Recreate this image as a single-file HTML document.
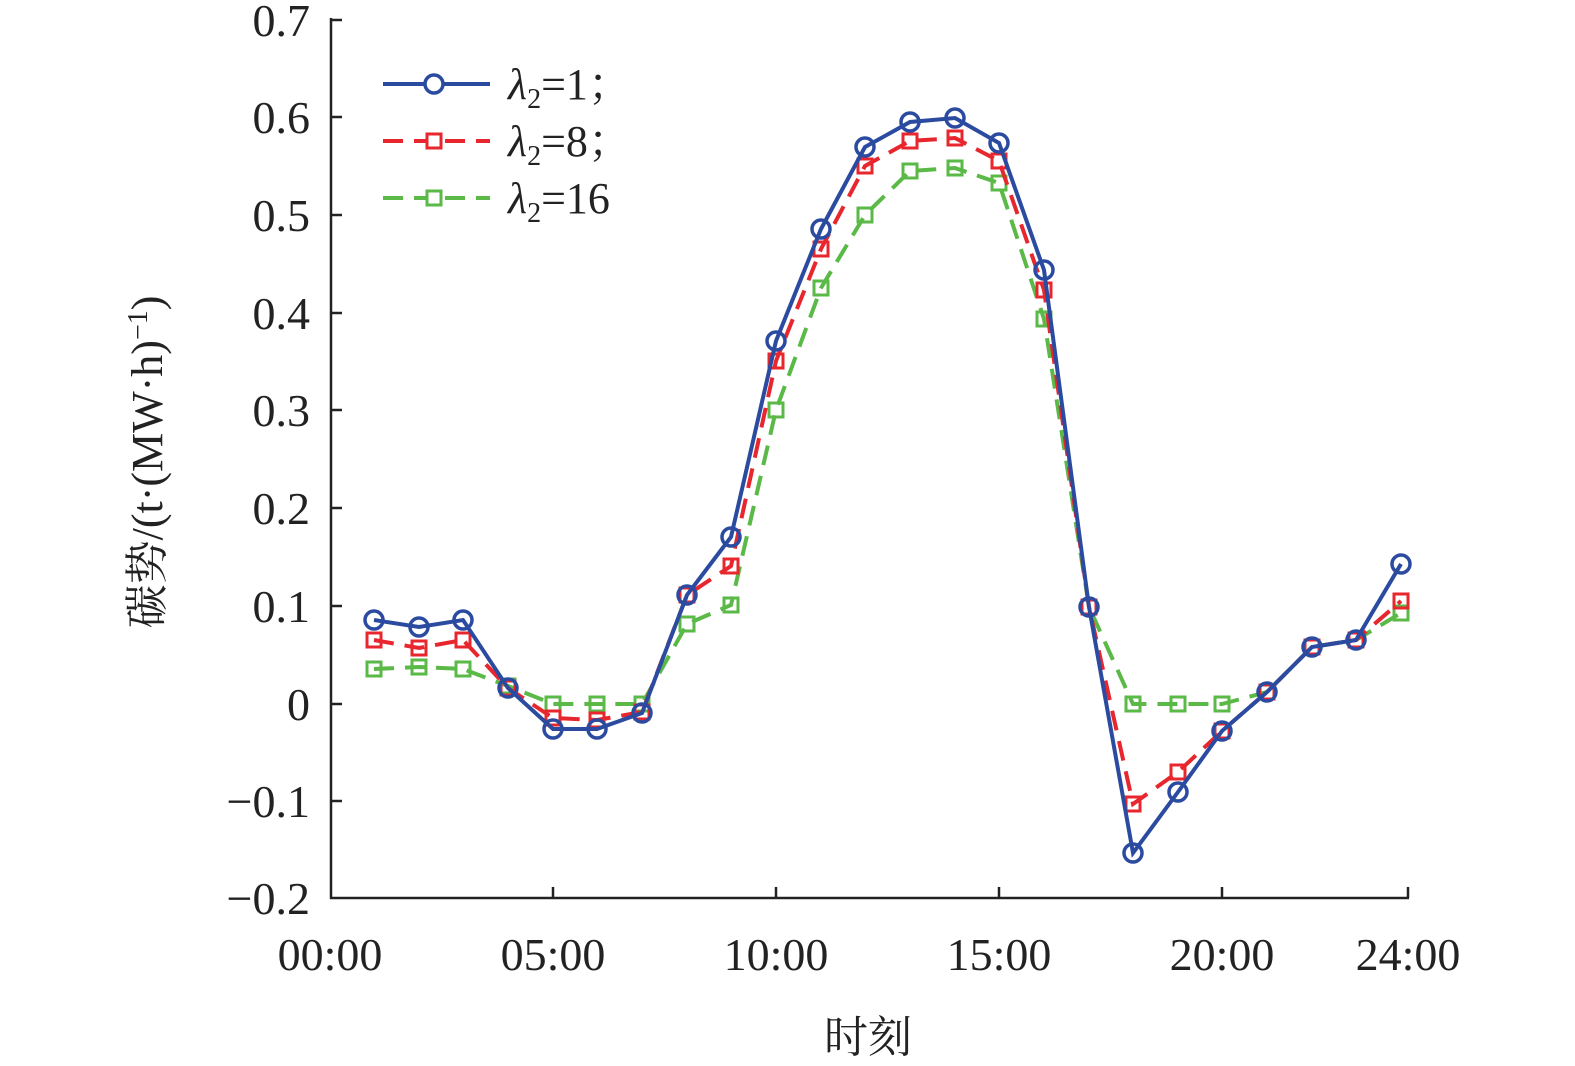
<!DOCTYPE html>
<html><head><meta charset="utf-8"><style>
html,body{margin:0;padding:0;background:#fff;overflow:hidden;width:1575px;height:1066px;}
svg{display:block;}
text{font-family:"Liberation Serif","Noto Serif CJK SC",serif;fill:#222;}
</style></head><body>
<svg width="1575" height="1066" viewBox="0 0 1575 1066" xmlns="http://www.w3.org/2000/svg">
<g stroke="#222" stroke-width="2.5" fill="none">
<line x1="331" y1="18" x2="331" y2="899"/>
<line x1="330" y1="898" x2="1409" y2="898"/>
<line x1="331" y1="20" x2="342" y2="20"/>
<line x1="331" y1="117" x2="342" y2="117"/>
<line x1="331" y1="215" x2="342" y2="215"/>
<line x1="331" y1="313" x2="342" y2="313"/>
<line x1="331" y1="410" x2="342" y2="410"/>
<line x1="331" y1="508" x2="342" y2="508"/>
<line x1="331" y1="606" x2="342" y2="606"/>
<line x1="331" y1="704" x2="342" y2="704"/>
<line x1="331" y1="801" x2="342" y2="801"/>
<line x1="553" y1="898" x2="553" y2="887"/>
<line x1="776" y1="898" x2="776" y2="887"/>
<line x1="999" y1="898" x2="999" y2="887"/>
<line x1="1222" y1="898" x2="1222" y2="887"/>
<line x1="1408" y1="898" x2="1408" y2="887"/>
</g>
<g font-size="46" text-anchor="end">
<text x="310" y="36">0.7</text>
<text x="310" y="133">0.6</text>
<text x="310" y="231">0.5</text>
<text x="310" y="329">0.4</text>
<text x="310" y="426">0.3</text>
<text x="310" y="524">0.2</text>
<text x="310" y="622">0.1</text>
<text x="310" y="720">0</text>
<text x="310" y="817">−0.1</text>
<text x="310" y="914">−0.2</text>
</g>
<g font-size="46" text-anchor="middle">
<text x="330" y="970">00:00</text>
<text x="553" y="970">05:00</text>
<text x="776" y="970">10:00</text>
<text x="999" y="970">15:00</text>
<text x="1222" y="970">20:00</text>
<text x="1408" y="970">24:00</text>
<text x="868" y="1052" font-size="44">时刻</text>
</g>
<text font-size="44" text-anchor="middle" transform="translate(162,462) rotate(-90)">碳势/(t·(MW·h)<tspan font-size="28" dy="-15">−1</tspan><tspan dy="15">)</tspan></text>

<!-- green -->
<g stroke="#5ab947" stroke-width="4" fill="none">
<polyline stroke-dasharray="20,11" points="374,669 419,667 463,669 508,686 553,704 597,704 642,704 687,624 731,605 776,410 821,288 865,215 910,171 955,168 999,183 1044,319 1089,607 1133,704 1178,704 1222,704 1267,692 1312,647 1356,640 1401,613"/>
<g stroke-width="3">
<rect x="367" y="662" width="14" height="14"/><rect x="412" y="660" width="14" height="14"/><rect x="456" y="662" width="14" height="14"/><rect x="501" y="679" width="14" height="14"/><rect x="546" y="697" width="14" height="14"/><rect x="590" y="697" width="14" height="14"/><rect x="635" y="697" width="14" height="14"/><rect x="680" y="617" width="14" height="14"/><rect x="724" y="598" width="14" height="14"/><rect x="769" y="403" width="14" height="14"/><rect x="814" y="281" width="14" height="14"/><rect x="858" y="208" width="14" height="14"/><rect x="903" y="164" width="14" height="14"/><rect x="948" y="161" width="14" height="14"/><rect x="992" y="176" width="14" height="14"/><rect x="1037" y="312" width="14" height="14"/><rect x="1082" y="600" width="14" height="14"/><rect x="1126" y="697" width="14" height="14"/><rect x="1171" y="697" width="14" height="14"/><rect x="1215" y="697" width="14" height="14"/><rect x="1260" y="685" width="14" height="14"/><rect x="1305" y="640" width="14" height="14"/><rect x="1349" y="633" width="14" height="14"/><rect x="1394" y="606" width="14" height="14"/>
</g></g>
<!-- red -->
<g stroke="#e8262e" stroke-width="4" fill="none">
<polyline stroke-dasharray="20,11" points="374,640 419,648 463,640 508,688 553,718 597,720 642,712 687,595 731,566 776,361 821,249 865,166 910,141 955,138 999,161 1044,290 1089,607 1133,804 1178,772 1222,731 1267,692 1312,647 1356,640 1401,601"/>
<g stroke-width="3">
<rect x="367" y="633" width="14" height="14"/><rect x="412" y="641" width="14" height="14"/><rect x="456" y="633" width="14" height="14"/><rect x="501" y="681" width="14" height="14"/><rect x="546" y="711" width="14" height="14"/><rect x="590" y="713" width="14" height="14"/><rect x="635" y="705" width="14" height="14"/><rect x="680" y="588" width="14" height="14"/><rect x="724" y="559" width="14" height="14"/><rect x="769" y="354" width="14" height="14"/><rect x="814" y="242" width="14" height="14"/><rect x="858" y="159" width="14" height="14"/><rect x="903" y="134" width="14" height="14"/><rect x="948" y="131" width="14" height="14"/><rect x="992" y="154" width="14" height="14"/><rect x="1037" y="283" width="14" height="14"/><rect x="1082" y="600" width="14" height="14"/><rect x="1126" y="797" width="14" height="14"/><rect x="1171" y="765" width="14" height="14"/><rect x="1215" y="724" width="14" height="14"/><rect x="1260" y="685" width="14" height="14"/><rect x="1305" y="640" width="14" height="14"/><rect x="1349" y="633" width="14" height="14"/><rect x="1394" y="594" width="14" height="14"/>
</g></g>
<!-- blue -->
<g stroke="#2b4ba0" stroke-width="4" fill="none">
<polyline points="374,620 419,627 463,620 508,688 553,729 597,729 642,713 687,595 731,537 776,341 821,229 865,147 910,122 955,118 999,143 1044,270 1089,607 1133,853 1178,792 1222,731 1267,692 1312,647 1356,640 1401,564"/>
<g stroke-width="3.5">
<circle cx="374" cy="620" r="9"/><circle cx="419" cy="627" r="9"/><circle cx="463" cy="620" r="9"/><circle cx="508" cy="688" r="9"/><circle cx="553" cy="729" r="9"/><circle cx="597" cy="729" r="9"/><circle cx="642" cy="713" r="9"/><circle cx="687" cy="595" r="9"/><circle cx="731" cy="537" r="9"/><circle cx="776" cy="341" r="9"/><circle cx="821" cy="229" r="9"/><circle cx="865" cy="147" r="9"/><circle cx="910" cy="122" r="9"/><circle cx="955" cy="118" r="9"/><circle cx="999" cy="143" r="9"/><circle cx="1044" cy="270" r="9"/><circle cx="1089" cy="607" r="9"/><circle cx="1133" cy="853" r="9"/><circle cx="1178" cy="792" r="9"/><circle cx="1222" cy="731" r="9"/><circle cx="1267" cy="692" r="9"/><circle cx="1312" cy="647" r="9"/><circle cx="1356" cy="640" r="9"/><circle cx="1401" cy="564" r="9"/>
</g></g>
<!-- legend -->
<g fill="none" stroke-width="4">
<line x1="383" y1="84" x2="490" y2="84" stroke="#2b4ba0"/>
<circle cx="434" cy="84" r="9" stroke="#2b4ba0" fill="#fff" stroke-width="3.5"/>
<line x1="383" y1="141" x2="490" y2="141" stroke="#e8262e" stroke-dasharray="20,11"/>
<rect x="427" y="134" width="14" height="14" stroke="#e8262e" fill="#fff" stroke-width="3"/>
<line x1="383" y1="198" x2="490" y2="198" stroke="#5ab947" stroke-dasharray="20,11"/>
<rect x="427" y="191" width="14" height="14" stroke="#5ab947" fill="#fff" stroke-width="3"/>
</g>
<g font-size="44">
<text x="508" y="99"><tspan font-style="italic">λ</tspan><tspan font-size="28" dy="9">2</tspan><tspan dy="-9">=1；</tspan></text>
<text x="508" y="156"><tspan font-style="italic">λ</tspan><tspan font-size="28" dy="9">2</tspan><tspan dy="-9">=8；</tspan></text>
<text x="508" y="213"><tspan font-style="italic">λ</tspan><tspan font-size="28" dy="9">2</tspan><tspan dy="-9">=16</tspan></text>
</g>
</svg>
</body></html>
